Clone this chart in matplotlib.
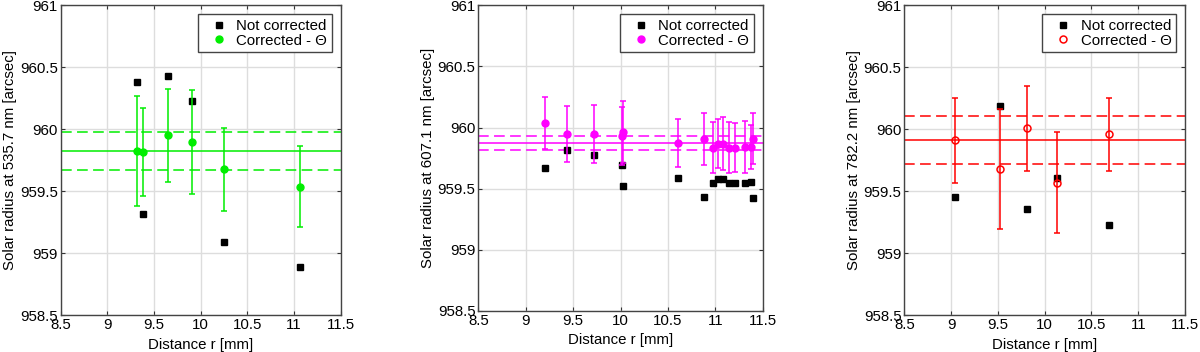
import numpy as np
import matplotlib.pyplot as plt

plt.rcParams['font.family'] = ['Liberation Sans', 'DejaVu Sans']
plt.rcParams['font.size'] = 10.8

# panel 1 - 535.7 nm
r1 = [9.316, 9.382, 9.648, 9.912, 10.254, 11.068]
nc1 = [960.384, 959.32, 960.43, 960.226, 959.09, 958.887]
c1 = [959.825, 959.817, 959.95, 959.898, 959.677, 959.538]
e1 = [0.44, 0.358, 0.378, 0.417, 0.336, 0.325]
lines1 = [959.825, 959.98, 959.672]

# panel 2 - 607.1 nm
r2 = [9.199, 9.434, 9.72, 10.014, 10.021, 10.605, 10.881, 10.972, 11.024,
      11.080, 11.140, 11.203, 11.315, 11.378, 11.399]
nc2 = [959.669, 959.82, 959.773, 959.694, 959.525, 959.59, 959.429, 959.549,
       959.577, 959.577, 959.549, 959.549, 959.549, 959.557, 959.421]
c2 = [960.036, 959.948, 959.948, 959.93, 959.964, 959.874, 959.91, 959.836,
      959.869, 959.869, 959.836, 959.836, 959.84, 959.84, 959.91]
e2 = [0.213, 0.231, 0.24, 0.24, 0.25, 0.2, 0.213, 0.208, 0.2, 0.216, 0.211,
      0.202, 0.211, 0.18, 0.208]
lines2 = [959.874, 959.93, 959.817]

# panel 3 - 782.2 nm
r3 = [9.038, 9.519, 9.808, 10.132, 10.688]
nc3 = [959.457, 960.188, 959.36, 959.608, 959.226]
c3 = [959.911, 959.68, 960.008, 959.57, 959.96]
e3 = [0.345, 0.485, 0.344, 0.41, 0.295]
lines3 = [959.914, 960.105, 959.723]

wavelengths = ["535.7", "607.1", "782.2"]
colors = ["#00ee00", "#ff00ff", "#ff0000"]
xticks = [8.5, 9, 9.5, 10, 10.5, 11, 11.5]
xticklabels = ["8.5", "9", "9.5", "10", "10.5", "11", "11.5"]
yticks = [958.5, 959, 959.5, 960, 960.5, 961]
yticklabels = ["958.5", "959", "959.5", "960", "960.5", "961"]

fig = plt.figure(figsize=(12, 3.52), dpi=100)
rects = [[0.0506, 0.1043, 0.2333, 0.8807],
         [0.3986, 0.1165, 0.2370, 0.8685],
         [0.7536, 0.1043, 0.2339, 0.8807]]

data = [(r1, nc1, c1, e1, lines1), (r2, nc2, c2, e2, lines2), (r3, nc3, c3, e3, lines3)]

for i in range(3):
    r, nc, c, e, ln = data[i]
    col = colors[i]
    ax = fig.add_axes(rects[i])
    ax.axhline(ln[0], color=col, lw=1.1, zorder=2)
    ax.axhline(ln[1], color=col, lw=1.1, ls=(0, (7, 3.5)), zorder=2)
    ax.axhline(ln[2], color=col, lw=1.1, ls=(0, (7, 3.5)), zorder=2)
    ax.plot(r, nc, 's', color='black', ms=4.3, label='Not corrected', zorder=3)
    ax.errorbar(r, c, yerr=e, fmt='none', ecolor=col, elinewidth=1.1,
                capsize=2.2, capthick=1.1, zorder=4)
    if i == 2:
        ax.plot(r, c, 'o', mfc='none', mec=col, mew=1.1, ms=5,
                label=u'Corrected - \u0398', zorder=5)
    else:
        ax.plot(r, c, 'o', color=col, ms=5, label=u'Corrected - \u0398', zorder=5)
    ax.set_xlim(8.5, 11.5)
    ax.set_ylim(958.5, 961)
    ax.set_xticks(xticks)
    ax.set_xticklabels(xticklabels)
    ax.set_yticks(yticks)
    ax.set_yticklabels(yticklabels)
    ax.grid(True, color='#dddddd', lw=1)
    ax.set_axisbelow(True)
    ax.tick_params(direction='in', top=True, right=True, length=3,
                   width=0.8, color='#333333', pad=2)
    for s in ax.spines.values():
        s.set_color('#444444')
        s.set_linewidth(1)
    ax.set_xlabel("Distance r [mm]", labelpad=4)
    ax.set_ylabel("Solar radius at " + wavelengths[i] + " nm [arcsec]", labelpad=2)
    leg = ax.legend(loc='upper right', fancybox=False, framealpha=1,
                    edgecolor='#444444', borderpad=0.3, labelspacing=0.05,
                    handlelength=2.2, handletextpad=0.05, borderaxespad=0.6)
    leg.get_frame().set_linewidth(1)

fig.savefig("out.png", dpi=100)
